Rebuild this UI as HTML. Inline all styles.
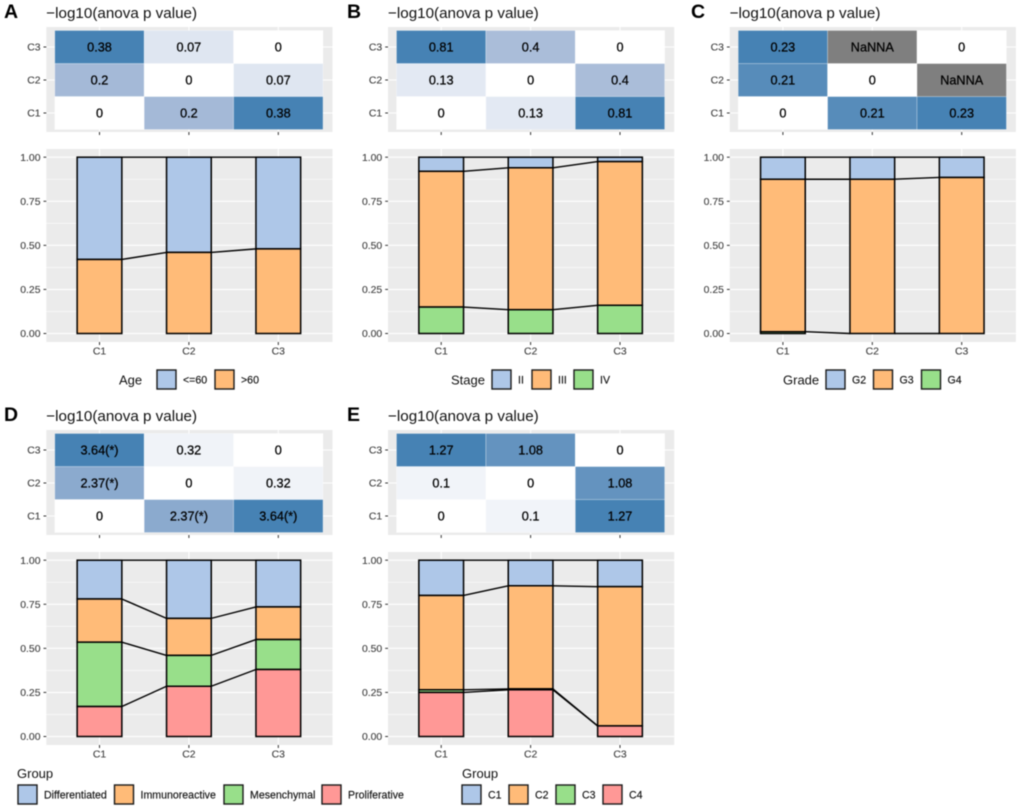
<!DOCTYPE html>
<html lang="en">
<head>
<meta charset="utf-8">
<title>Anova heatmaps and stacked proportion bars</title>
<style>
html,body{margin:0;padding:0;background:#fff;}
body{width:1020px;height:810px;overflow:hidden;}
svg{display:block;filter:blur(0.4px);font-family:"Liberation Sans",Arial,sans-serif;}
</style>
</head>
<body>
<svg id="fig" width="1020" height="810" viewBox="0 0 1020 810" xmlns="http://www.w3.org/2000/svg"></svg>
<script>
// ---- shared axis data ----
const categories = ['C1', 'C2', 'C3'];
const yTicks = [0, 0.25, 0.5, 0.75, 1];
const yTickLabels = ['0.00', '0.25', '0.50', '0.75', '1.00'];
const minorTicks = [0.125, 0.375, 0.625, 0.875];
const heatTitle = '\u2212log10(anova p value)';
const significanceCut = 1.3;

// ---- panel A: age ----
const ageLevels = ['<=60', '>60'];
const ageLe60 = [0.58, 0.54, 0.52];
const ageGt60 = [0.42, 0.46, 0.48];
const ageAnova = [[0, 0.2, 0.38], [0.2, 0, 0.07], [0.38, 0.07, 0]];

// ---- panel B: stage ----
const stageLevels = ['II', 'III', 'IV'];
const stageII = [0.08, 0.06, 0.025];
const stageIII = [0.77, 0.805, 0.815];
const stageIV = [0.15, 0.135, 0.16];
const stageAnova = [[0, 0.13, 0.81], [0.13, 0, 0.4], [0.81, 0.4, 0]];

// ---- panel C: grade ----
const gradeLevels = ['G2', 'G3', 'G4'];
const gradeG2 = [0.125, 0.125, 0.115];
const gradeG3 = [0.865, 0.875, 0.885];
const gradeG4 = [0.01, 0, 0];
const gradeAnova = [[0, 0.21, 0.23], [0.21, 0, null], [0.23, null, 0]];

// ---- panel D: molecular group ----
const subtypeLevels = ['Differentiated', 'Immunoreactive', 'Mesenchymal', 'Proliferative'];
const subtypeDifferentiated = [0.22, 0.33, 0.265];
const subtypeImmunoreactive = [0.245, 0.21, 0.185];
const subtypeMesenchymal = [0.365, 0.175, 0.17];
const subtypeProliferative = [0.17, 0.285, 0.38];
const subtypeAnova = [[0, 2.37, 3.64], [2.37, 0, 0.32], [3.64, 0.32, 0]];

// ---- panel E: cluster group ----
const clusterLevels = ['C1', 'C2', 'C3', 'C4'];
const clusterC1 = [0.20, 0.145, 0.15];
const clusterC2 = [0.535, 0.585, 0.79];
const clusterC3 = [0.015, 0.005, 0];
const clusterC4 = [0.25, 0.265, 0.06];
const clusterAnova = [[0, 0.1, 1.27], [0.1, 0, 1.08], [1.27, 1.08, 0]];

const fills = ['#AEC7E8', '#FFBB78', '#98DF8A', '#FF9896'];
const svg = document.getElementById('fig');
const NS = 'http://www.w3.org/2000/svg';

function make(tag, props, parent, content) {
  const e = document.createElementNS(NS, tag);
  for (const k in props) e.setAttribute(k, props[k]);
  if (content !== undefined) e.textContent = content;
  parent.appendChild(e);
  return e;
}

function heatColor(v, max) {
  if (v === null) return '#7f7f7f';
  const t = max ? v / max : 0;
  const lerp = (a, b, u) => Math.round(a + (b - a) * u);
  if (t < 0.5) {
    const u = t * 2;
    return 'rgb(' + lerp(255, 169, u) + ',' + lerp(255, 188, u) + ',' + lerp(255, 217, u) + ')';
  }
  const u = (t - 0.5) * 2;
  return 'rgb(' + lerp(169, 70, u) + ',' + lerp(188, 130, u) + ',' + lerp(217, 180, u) + ')';
}

function heatLabel(v) {
  if (v === null) return 'NaNNA';
  return v >= significanceCut ? v.toFixed(2) + '(*)' : String(v);
}

function drawPanel(p) {
  const dx = p.dx, dy = p.dy;
  const group = make('g', {}, svg);
  
  

  // x / y scales
  const center = i => 99.5 + dx + i * 89.4;
  const barW = 44.7, cellW = 89.4, cellH = 33;
  const panelL = 46.3 + dx, panelR = 332.5 + dx;
  const yVal = v => 333.5 + dy - v * 176.3;
  const rowY = r => 30.5 + dy + (2 - r) * cellH;

  const letter = make('text', {x: p.letterX, y: 18 + dy, 'font-size': 19.5, 'font-weight': 'bold', fill: '#000'}, group, p.letter);
  
  

  const title = make('text', {x: panelL, y: 18 + dy, 'font-size': 15.2, fill: '#111'}, group, heatTitle);
  
  

  // ---- heatmap ----
  const heatBg = make('rect', {x: panelL, y: 27 + dy, width: panelR - panelL, height: 105, fill: '#ebebeb'}, group);
  
  

  categories.forEach((c, i) => {
    const g1 = make('line', {x1: center(i), x2: center(i), y1: 27 + dy, y2: 132 + dy, stroke: '#fff', 'stroke-width': 1}, group);
    
    
    const g2 = make('line', {x1: panelL, x2: panelR, y1: rowY(i) + cellH / 2, y2: rowY(i) + cellH / 2, stroke: '#fff', 'stroke-width': 1}, group);
    
    
  });

  const max = Math.max.apply(null, p.anova.flat().filter(v => v !== null));
  p.anova.forEach((row, r) => {
    row.forEach((v, col) => {
      const cell = make('rect', {x: center(col) - cellW / 2, y: rowY(r), width: cellW, height: cellH, fill: heatColor(v, max), stroke: 'rgba(255,255,255,0.45)', 'stroke-width': 0.6}, group);
      
      
      const label = make('text', {x: center(col), y: rowY(r) + cellH / 2 + 4.6, 'text-anchor': 'middle', 'font-size': 12.7, fill: '#000', stroke: '#000', 'stroke-width': 0.25}, group, heatLabel(v));
      
      
    });
  });

  categories.forEach((c, i) => {
    const yl = make('text', {x: 40.5 + dx, y: rowY(i) + cellH / 2 + 3.7, 'text-anchor': 'end', 'font-size': 10.4, fill: '#404040', stroke: '#404040', 'stroke-width': 0.12}, group, c);
    
    
    const yt = make('line', {x1: 43.5 + dx, x2: panelL, y1: rowY(i) + cellH / 2, y2: rowY(i) + cellH / 2, stroke: '#333', 'stroke-width': 1}, group);
    
    
    const xt = make('line', {x1: center(i), x2: center(i), y1: 132 + dy, y2: 135 + dy, stroke: '#333', 'stroke-width': 1}, group);
    
    
  });

  // ---- stacked bars ----
  const barBg = make('rect', {x: panelL, y: 149 + dy, width: panelR - panelL, height: 193, fill: '#ebebeb'}, group);
  
  

  minorTicks.forEach(v => {
    const m = make('line', {x1: panelL, x2: panelR, y1: yVal(v), y2: yVal(v), stroke: '#fff', 'stroke-width': 0.6}, group);
    
    
  });
  yTicks.forEach((v, i) => {
    const g = make('line', {x1: panelL, x2: panelR, y1: yVal(v), y2: yVal(v), stroke: '#fff', 'stroke-width': 1.1}, group);
    
    
    const t = make('line', {x1: 43.5 + dx, x2: panelL, y1: yVal(v), y2: yVal(v), stroke: '#333', 'stroke-width': 1}, group);
    
    
    const l = make('text', {x: 40.5 + dx, y: yVal(v) + 3.7, 'text-anchor': 'end', 'font-size': 10.4, fill: '#404040', stroke: '#404040', 'stroke-width': 0.12}, group, yTickLabels[i]);
    
    
  });
  categories.forEach((c, i) => {
    const g = make('line', {x1: center(i), x2: center(i), y1: 149 + dy, y2: 342 + dy, stroke: '#fff', 'stroke-width': 1.1}, group);
    
    
  });

  // cumulative heights per level, measured from the bottom of the stack
  const tops = p.series.map((s, j) => categories.map((c, i) => {
    let total = 0;
    for (let k = j; k < p.series.length; k++) total += p.series[k][i];
    return total;
  }));

  // connector lines between neighbouring bars
  tops.forEach(level => {
    for (let i = 0; i < categories.length - 1; i++) {
      const line = make('line', {x1: center(i) + barW / 2, x2: center(i + 1) - barW / 2, y1: yVal(level[i]), y2: yVal(level[i + 1]), stroke: '#000', 'stroke-width': 1.4}, group);
      
      
    }
  });

  p.series.forEach((s, j) => {
    categories.forEach((c, i) => {
      const top = tops[j][i];
      const bottom = top - s[i];
      const bar = make('rect', {x: center(i) - barW / 2, y: yVal(top), width: barW, height: Math.max(0, yVal(bottom) - yVal(top)), fill: fills[j], stroke: '#000', 'stroke-width': 1.5}, group);
      
      
    });
  });

  categories.forEach((c, i) => {
    const t = make('line', {x1: center(i), x2: center(i), y1: 342 + dy, y2: 345 + dy, stroke: '#333', 'stroke-width': 1}, group);
    
    
    const l = make('text', {x: center(i), y: 354.5 + dy, 'text-anchor': 'middle', 'font-size': 10.4, fill: '#404040', stroke: '#404040', 'stroke-width': 0.12}, group, c);
    
    
  });

  // ---- legend ----
  const lg = make('g', {}, group);
  
  
  const lt = make('text', {x: p.legendTitleX, y: p.legendTitleY, 'font-size': 13, fill: '#111'}, lg, p.legendTitle);
  
  
  p.levels.forEach((name, j) => {
    const key = make('rect', {x: p.keyX[j], y: p.keyY, width: 19, height: 19, fill: fills[j], stroke: '#1a1a1a', 'stroke-width': 1.4}, lg);
    
    
    const txt = make('text', {x: p.keyX[j] + p.keyGap, y: p.keyY + 13.3, 'font-size': 10.6, fill: '#111', stroke: '#111', 'stroke-width': 0.15}, lg, name);
    
    
  });
}

drawPanel({letter: 'A', letterX: 4, dx: 0, dy: 0, anova: ageAnova,
  series: [ageLe60, ageGt60], levels: ageLevels,
  legendTitle: 'Age', legendTitleX: 119, legendTitleY: 384.5, keyX: [157, 215], keyY: 370, keyGap: 26});
drawPanel({letter: 'B', letterX: 347, dx: 341.7, dy: 0, anova: stageAnova,
  series: [stageII, stageIII, stageIV], levels: stageLevels,
  legendTitle: 'Stage', legendTitleX: 451, legendTitleY: 384.5, keyX: [492, 532, 574], keyY: 370, keyGap: 26});
drawPanel({letter: 'C', letterX: 691, dx: 683.4, dy: 0, anova: gradeAnova,
  series: [gradeG2, gradeG3, gradeG4], levels: gradeLevels,
  legendTitle: 'Grade', legendTitleX: 783, legendTitleY: 384.5, keyX: [826, 873.5, 921.5], keyY: 370, keyGap: 26});
drawPanel({letter: 'D', letterX: 4, dx: 0, dy: 403, anova: subtypeAnova,
  series: [subtypeDifferentiated, subtypeImmunoreactive, subtypeMesenchymal, subtypeProliferative], levels: subtypeLevels,
  legendTitle: 'Group', legendTitleX: 17, legendTitleY: 778, keyX: [18, 114.5, 224, 322], keyY: 785, keyGap: 26});
drawPanel({letter: 'E', letterX: 347, dx: 341.7, dy: 403, anova: clusterAnova,
  series: [clusterC1, clusterC2, clusterC3, clusterC4], levels: clusterLevels,
  legendTitle: 'Group', legendTitleX: 462, legendTitleY: 778, keyX: [462, 509, 556, 603], keyY: 785, keyGap: 26});
</script>
</body>
</html>
